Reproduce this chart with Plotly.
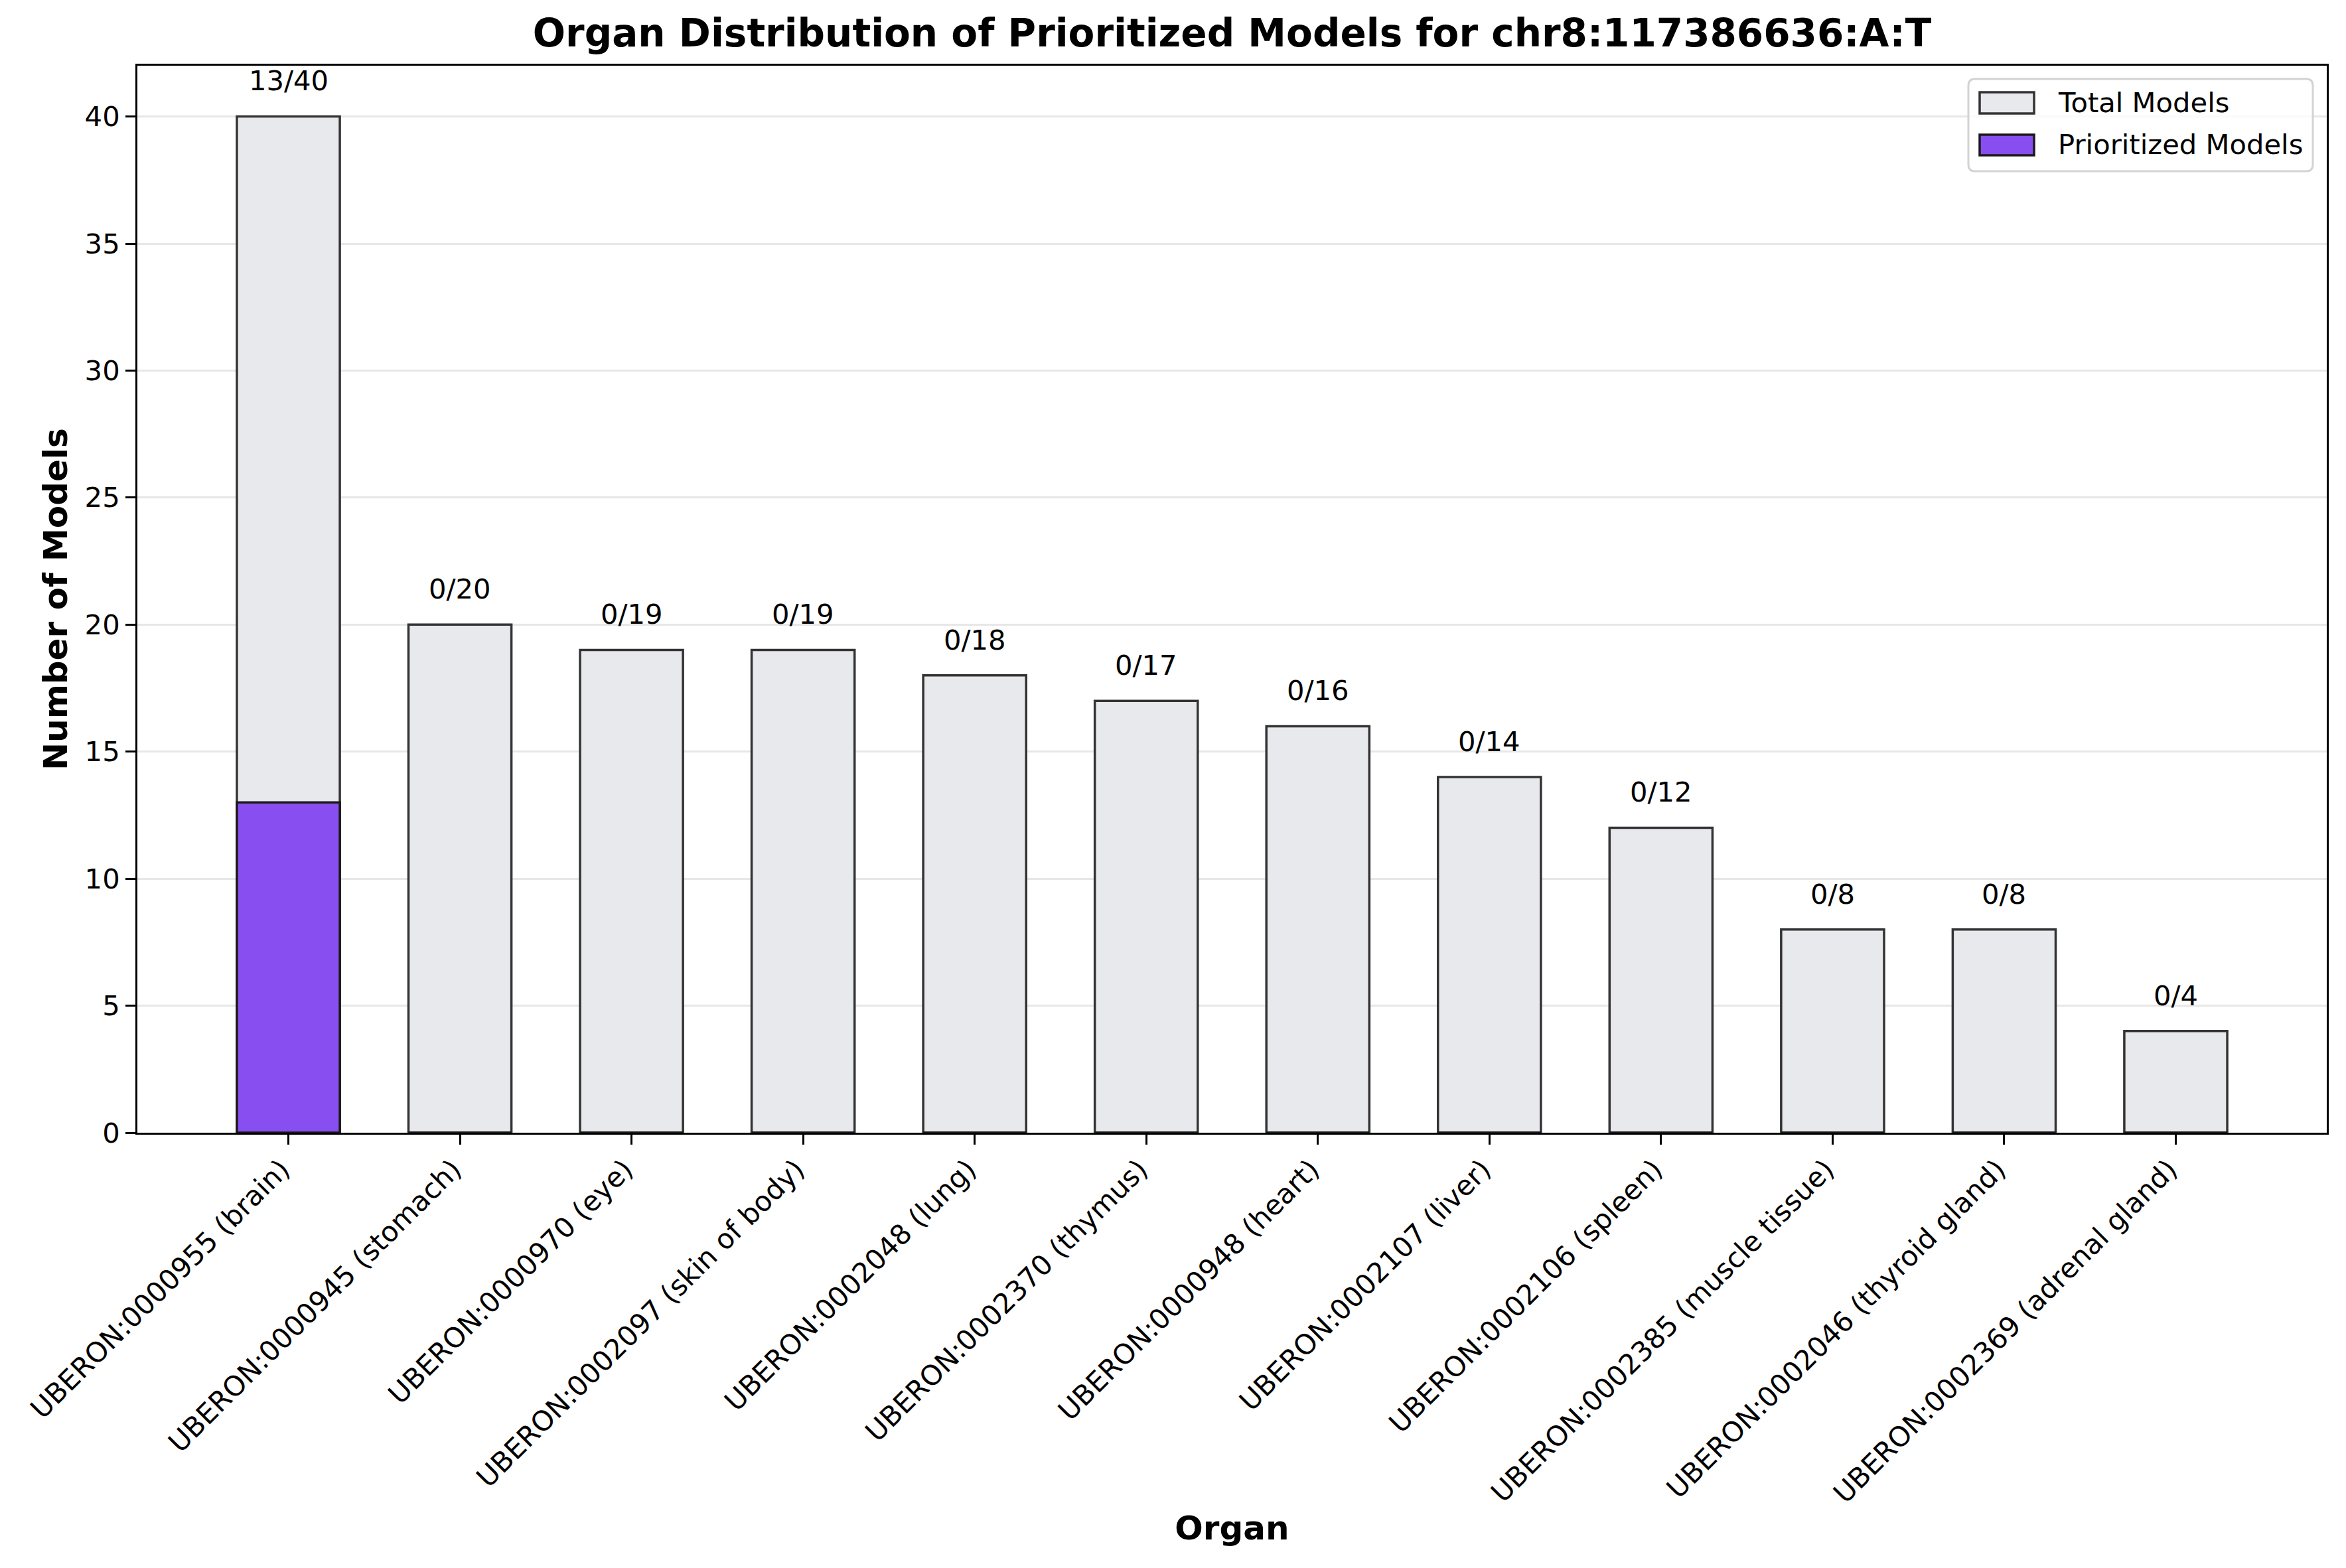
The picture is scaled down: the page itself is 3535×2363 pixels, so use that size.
import plotly.graph_objects as go

organs = [
    "UBERON:0000955 (brain)",
    "UBERON:0000945 (stomach)",
    "UBERON:0000970 (eye)",
    "UBERON:0002097 (skin of body)",
    "UBERON:0002048 (lung)",
    "UBERON:0002370 (thymus)",
    "UBERON:0000948 (heart)",
    "UBERON:0002107 (liver)",
    "UBERON:0002106 (spleen)",
    "UBERON:0002385 (muscle tissue)",
    "UBERON:0002046 (thyroid gland)",
    "UBERON:0002369 (adrenal gland)",
]
total_models = [40, 20, 19, 19, 18, 17, 16, 14, 12, 8, 8, 4]
prioritized_models = [13, 0, 0, 0, 0, 0, 0, 0, 0, 0, 0, 0]
y_ticks = [0, 5, 10, 15, 20, 25, 30, 35, 40]
series_names = ["Total Models", "Prioritized Models"]

FONT = "DejaVu Sans"
W, H = 3535, 2363
ML, MR, MT, MB = 207, 29, 99, 656
PW, PH = W - ML - MR, H - MT - MB

TOTAL_FILL, TOTAL_EDGE = "#e8e9ed", "#333333"
PRIO_FILL, PRIO_EDGE = "#894eef", "#1a1a1a"


def px_x(px):
    return (px - ML) / PW


def px_y(py):
    return 1 - (py - MT) / PH


fig = go.Figure()
fig.add_trace(go.Bar(
    x=organs, y=total_models, name=series_names[0], width=0.6, showlegend=False,
    marker=dict(color=TOTAL_FILL, line=dict(color=TOTAL_EDGE, width=3.5)),
))
fig.add_trace(go.Bar(
    x=organs, y=prioritized_models, name=series_names[1], width=0.6, showlegend=False,
    marker=dict(color=PRIO_FILL, line=dict(color=PRIO_EDGE, width=3.5)),
))

annotations = []
for o, t, p in zip(organs, total_models, prioritized_models):
    annotations.append(dict(
        x=o, y=t + 1.4, xref="x", yref="y", text=f"{p}/{t}", showarrow=False,
        yanchor="middle", xanchor="center",
        font=dict(family=FONT, size=41.7, color="black"),
    ))

# custom legend (matplotlib-style), positioned in paper coordinates
shapes = []
lx0, lx1, ly0, ly1 = 2966, 3485, 119, 258
r = 10
x0, x1 = px_x(lx0), px_x(lx1)
y0, y1 = px_y(ly1), px_y(ly0)
rx, ry = r / PW, r / PH
path = (f"M {x0+rx},{y1} L {x1-rx},{y1} Q {x1},{y1} {x1},{y1-ry} "
        f"L {x1},{y0+ry} Q {x1},{y0} {x1-rx},{y0} L {x0+rx},{y0} "
        f"Q {x0},{y0} {x0},{y0+ry} L {x0},{y1-ry} Q {x0},{y1} {x0+rx},{y1} Z")
shapes.append(dict(type="path", path=path, xref="paper", yref="paper",
                   fillcolor="rgba(255,255,255,0.8)", line=dict(color="#d3d3d3", width=3),
                   layer="above"))
legend_items = [(series_names[0], TOTAL_FILL, TOTAL_EDGE, 139, 171, 155),
                (series_names[1], PRIO_FILL, PRIO_EDGE, 203, 234, 218)]
for name, fill, edge, sy0, sy1, ty in legend_items:
    shapes.append(dict(type="rect", xref="paper", yref="paper",
                       x0=px_x(2983), x1=px_x(3065), y0=px_y(sy1), y1=px_y(sy0),
                       fillcolor=fill, line=dict(color=edge, width=3.5), layer="above"))
    annotations.append(dict(x=px_x(3099), y=px_y(ty), xref="paper", yref="paper",
                            text=name, showarrow=False, xanchor="left", yanchor="middle",
                            font=dict(family=FONT, size=41.7, color="black")))

fig.update_layout(
    width=W, height=H,
    margin=dict(l=ML, r=MR, t=MT, b=MB, pad=0),
    paper_bgcolor="white", plot_bgcolor="white",
    barmode="overlay",
    title=dict(
        text="<b>Organ Distribution of Prioritized Models for chr8:117386636:A:T</b>",
        x=(ML + PW / 2) / W, xanchor="center",
        y=1 - 50 / H, yanchor="middle",
        font=dict(family=FONT, size=58, color="black"),
    ),
    font=dict(family=FONT, size=41.7, color="black"),
    annotations=annotations,
    shapes=shapes,
    showlegend=False,
)

fig.update_xaxes(
    range=[-0.88, 11.88],
    tickangle=-45,
    ticks="outside", ticklen=15, tickwidth=3, tickcolor="black",
    ticklabelshift=-10, ticklabelstandoff=-4,
    showline=True, linecolor="black", linewidth=3, mirror=True,
    showgrid=False,
    tickfont=dict(family=FONT, size=41.7, color="black"),
    title=dict(text="<b>Organ</b>", font=dict(family=FONT, size=50, color="black"), standoff=12),
)
fig.update_yaxes(
    range=[0, 42],
    tickvals=y_ticks,
    ticks="outside", ticklen=15, tickwidth=3, tickcolor="black",
    showline=True, linecolor="black", linewidth=3, mirror=True,
    showgrid=True, gridcolor="#e7e7e7", gridwidth=3,
    zeroline=False,
    tickfont=dict(family=FONT, size=41.7, color="black"),
    title=dict(text="<b>Number of Models</b>", font=dict(family=FONT, size=50, color="black"), standoff=11),
)

fig.write_html("out.html",
               config={"displayModeBar": False},
               post_script="document.body.style.margin='0';document.body.style.overflow='hidden';")
